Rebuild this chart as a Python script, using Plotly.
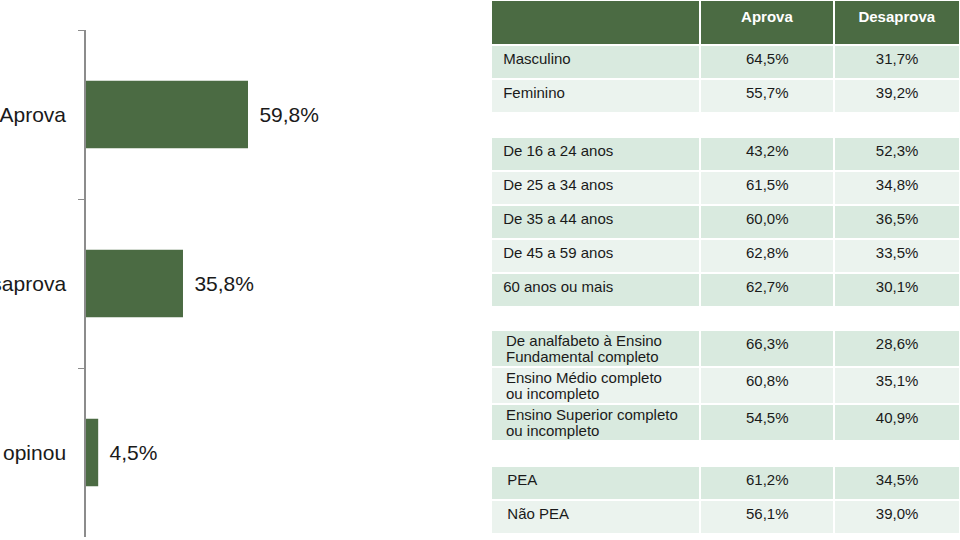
import plotly.graph_objects as go

# avaliação geral
categorias = ["Aprova", "Desaprova", "Não opinou"]
valores = [59.8, 35.8, 4.5]

# tabela por segmento
colunas = ["Aprova", "Desaprova"]

sexo_rotulos = ["Masculino", "Feminino"]
sexo_aprova = [64.5, 55.7]
sexo_desaprova = [31.7, 39.2]

idade_rotulos = ["De 16 a 24 anos", "De 25 a 34 anos", "De 35 a 44 anos",
                 "De 45 a 59 anos", "60 anos ou mais"]
idade_aprova = [43.2, 61.5, 60.0, 62.8, 62.7]
idade_desaprova = [52.3, 34.8, 36.5, 33.5, 30.1]

escol_rotulos = ["De analfabeto à Ensino<br>Fundamental completo",
                 "Ensino Médio completo<br>ou incompleto",
                 "Ensino Superior completo<br>ou incompleto"]
escol_aprova = [66.3, 60.8, 54.5]
escol_desaprova = [28.6, 35.1, 40.9]

pea_rotulos = ["PEA", "Não PEA"]
pea_aprova = [61.2, 56.1]
pea_desaprova = [34.5, 39.0]

VERDE = "#4b6b43"
TEXTO = "#1a1a1a"
FONTE = "Arial, Liberation Sans, sans-serif"
W, H = 960, 540
X0 = 491  # inicio da tabela (px)


def pct(v):
    return f"{v:.1f}".replace(".", ",") + "%"


fig = go.Figure()

fig.add_trace(go.Bar(
    y=categorias, x=valores, orientation="h",
    marker=dict(color=VERDE, line=dict(width=0)),
    text=["\u2009\u2009" + pct(v) for v in valores],
    textposition="outside", cliponaxis=False,
    textfont=dict(size=21, color=TEXTO, family=FONTE),
))


def tabela(rotulos, aprova, desaprova, topo, alt, cab, header=False,
           recuo=1, duas_linhas=False):
    n = len(rotulos)
    fills = ["#d9eadf" if i % 2 == 0 else "#ebf3ee" for i in range(n)]
    if header:
        hdr = dict(values=["", "<b>" + colunas[0] + "</b>", "<b>" + colunas[1] + "</b>"],
                   fill_color=VERDE, line=dict(color="white", width=2),
                   font=dict(color="white", size=15, family=FONTE),
                   align="center", height=cab)
    else:
        # cabecalho branco faz o espaco entre os grupos
        hdr = dict(values=["", "", ""], fill_color="white",
                   line=dict(color="white", width=0), height=cab)
    fundo = topo + cab + n * alt
    if duas_linhas:
        col1 = [""] * n
    else:
        col1 = ["\u00a0" * recuo + r for r in rotulos]
    fig.add_trace(go.Table(
        domain=dict(x=[X0 / W, 1], y=[1 - (fundo + 1) / H, 1 - topo / H]),
        columnwidth=[208, 133, 125],
        header=hdr,
        cells=dict(
            values=[col1, [pct(v) for v in aprova], [pct(v) for v in desaprova]],
            fill_color=[fills, fills, fills],
            line=dict(color="white", width=2),
            font=dict(color=TEXTO, size=15, family=FONTE),
            align=["left", "center", "center"], height=alt,
        ),
    ))
    if duas_linhas:
        # rotulos em duas linhas com entrelinha justa
        for i, r in enumerate(rotulos):
            meio = topo + cab + alt * i + alt / 2
            for k, linha in enumerate(r.split("<br>")):
                fig.add_annotation(
                    x=(X0 + 13) / W, y=1 - (meio - 8 + 16 * k) / H,
                    xref="paper", yref="paper", xanchor="left", yanchor="middle",
                    text=linha, showarrow=False,
                    font=dict(color=TEXTO, size=15, family=FONTE))
    return fundo


f = tabela(sexo_rotulos, sexo_aprova, sexo_desaprova, 0, 34, 45, header=True)
f = tabela(idade_rotulos, idade_aprova, idade_desaprova, f, 34, 24)
f = tabela(escol_rotulos, escol_aprova, escol_desaprova, f, 37, 23, duas_linhas=True)
f = tabela(pea_rotulos, pea_aprova, pea_desaprova, f, 34, 25, recuo=2)

fig.update_layout(
    width=W, height=H,
    margin=dict(l=0, r=0, t=0, b=0),
    paper_bgcolor="white", plot_bgcolor="white",
    showlegend=False, bargap=0.6,
    font=dict(family=FONTE),
    xaxis=dict(domain=[86 / W, 0.4], range=[0, 110], visible=False),
    yaxis=dict(domain=[3 / H, 1 - 30 / H], autorange="reversed",
               showline=True, linecolor="#8c8c8c", linewidth=1.5,
               ticks="outside", tickson="boundaries", ticklen=6,
               tickcolor="#8c8c8c", ticklabelstandoff=14,
               tickfont=dict(size=21, color=TEXTO, family=FONTE),
               showgrid=False, zeroline=False, automargin=False),
)

fig.write_html("out.html", config={"displayModeBar": False},
               post_script="document.body.style.margin='0';")
